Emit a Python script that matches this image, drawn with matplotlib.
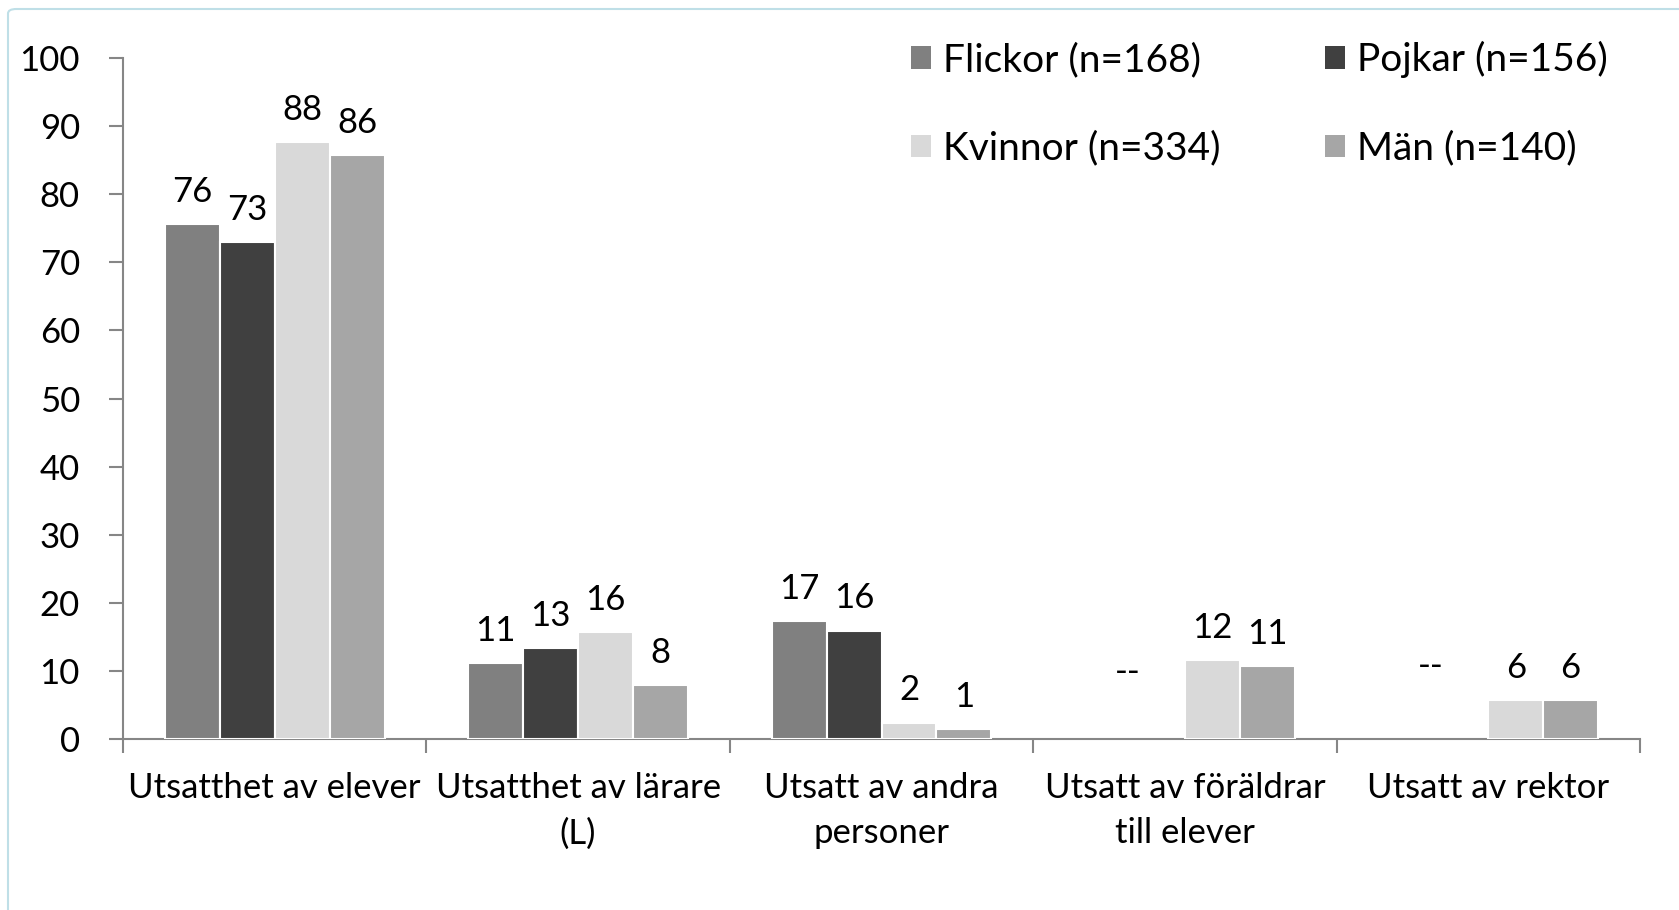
import numpy as np
import matplotlib
matplotlib.use("Agg")
import matplotlib.pyplot as plt
from matplotlib.patches import FancyBboxPatch, Patch

plt.rcParams['font.family'] = ['Lato', 'DejaVu Sans']

categories = ["Utsatthet av elever", "Utsatthet av lärare\n(L)", "Utsatt av andra\npersoner",
              "Utsatt av föräldrar\ntill elever", "Utsatt av rektor"]
series_names = ["Flickor (n=168)", "Pojkar (n=156)", "Kvinnor (n=334)", "Män (n=140)"]
flickor = [75.6, 11.2, 17.3, np.nan, np.nan]
pojkar = [73.0, 13.4, 15.9, np.nan, np.nan]
kvinnor = [87.7, 15.7, 2.4, 11.6, 5.7]
man = [85.7, 7.9, 1.4, 10.7, 5.7]
yticks = [0, 10, 20, 30, 40, 50, 60, 70, 80, 90, 100]

colors = ["#808080", "#404040", "#D9D9D9", "#A6A6A6"]
series = [flickor, pojkar, kvinnor, man]

W, H = 1679, 910
fig = plt.figure(figsize=(W / 100, H / 100), dpi=100)
ax = fig.add_axes([123 / W, 1 - 739 / H, (1640 - 123) / W, (739 - 58) / H])

x = np.arange(len(categories))
bw = 0.181
offsets = [-1.5 * bw, -0.5 * bw, 0.5 * bw, 1.5 * bw]
FS = 25
for vals, off, col in zip(series, offsets, colors):
    v = np.array(vals, dtype=float)
    mask = ~np.isnan(v)
    ax.bar(x[mask] + off, v[mask], width=bw, color=col, edgecolor="white", linewidth=1.5, zorder=3)
    for xi, vi in zip(x[mask] + off, v[mask]):
        ax.annotate(f"{int(round(vi))}", (xi, vi), xytext=(0, 16), textcoords="offset points",
                    ha="center", va="baseline", fontsize=FS, color="black")

# "--" markers for missing values
for i in range(len(categories)):
    if np.isnan(flickor[i]):
        ax.text(i - 0.19, 9.9 if i == 3 else 10.7, "--", ha="center", va="center", fontsize=FS)

ax.set_xlim(-0.5, len(categories) - 0.5)
ax.set_ylim(0, 100)
ax.set_yticks(yticks)
ax.set_yticklabels([str(t) for t in yticks])
ax.tick_params(axis="y", length=10, width=1.5, color="#868686", labelsize=FS, pad=21)

ax.set_xticks(np.arange(-0.5, len(categories), 1.0))
ax.set_xticklabels([])
ax.tick_params(axis="x", which="major", length=10, width=1.5, color="#868686")
ax.set_xticks(x, minor=True)
ax.set_xticklabels(categories, minor=True, fontsize=FS, linespacing=1.5)
ax.tick_params(axis="x", which="minor", length=0, pad=24)

for s in ["top", "right"]:
    ax.spines[s].set_visible(False)
for s in ["left", "bottom"]:
    ax.spines[s].set_color("#868686")
    ax.spines[s].set_linewidth(1.5)

handles = [Patch(facecolor=c, edgecolor="none") for c in colors]
order = [0, 2, 1, 3]
leg = fig.legend([handles[i] for i in order], [series_names[i] for i in order], ncol=2,
                 loc="upper left", bbox_to_anchor=(876 / W, 1 - 6 / H), frameon=False,
                 fontsize=28, handlelength=0.51, handleheight=0.51, handletextpad=0.31,
                 columnspacing=2.7, labelspacing=1.35)

border = FancyBboxPatch((8 / W, -0.05), 1.1, 1 - 9 / H + 0.05, boxstyle="round,pad=0,rounding_size=0.005",
                        transform=fig.transFigure, fill=False, edgecolor="#BFDFE7", linewidth=1.5)
fig.patches.append(border)

fig.savefig("out.png", dpi=100)
